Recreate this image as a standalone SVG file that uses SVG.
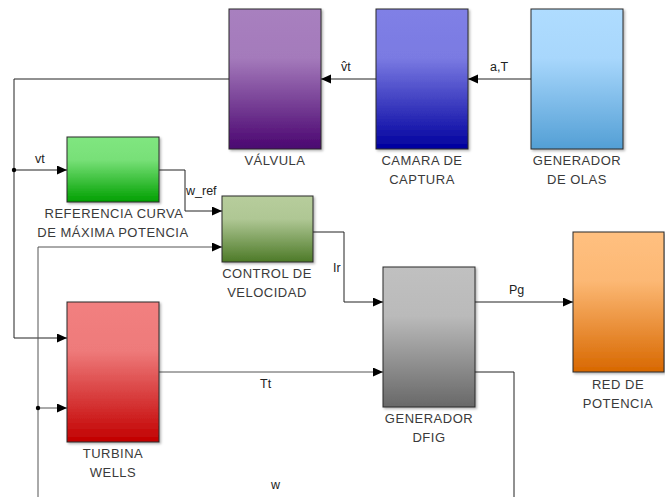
<svg xmlns="http://www.w3.org/2000/svg" width="665" height="497" viewBox="0 0 665 497">
<defs>
<linearGradient id="gV" x1="0" y1="0" x2="0" y2="1"><stop offset="0" stop-color="#a880bf"/><stop offset="0.35" stop-color="#a47abb"/><stop offset="1" stop-color="#4a0570"/></linearGradient>
<linearGradient id="gC" x1="0" y1="0" x2="0" y2="1"><stop offset="0" stop-color="#8080e6"/><stop offset="0.35" stop-color="#7a7ae2"/><stop offset="1" stop-color="#00009e"/></linearGradient>
<linearGradient id="gO" x1="0" y1="0" x2="0" y2="1"><stop offset="0" stop-color="#afdcff"/><stop offset="0.35" stop-color="#a8d7fc"/><stop offset="1" stop-color="#539fd5"/></linearGradient>
<linearGradient id="gR" x1="0" y1="0" x2="0" y2="1"><stop offset="0" stop-color="#80e680"/><stop offset="0.35" stop-color="#78e078"/><stop offset="1" stop-color="#00a000"/></linearGradient>
<linearGradient id="gCV" x1="0" y1="0" x2="0" y2="1"><stop offset="0" stop-color="#b7cd9c"/><stop offset="0.35" stop-color="#afc794"/><stop offset="1" stop-color="#4d7a28"/></linearGradient>
<linearGradient id="gT" x1="0" y1="0" x2="0" y2="1"><stop offset="0" stop-color="#f28080"/><stop offset="0.35" stop-color="#ee7a7a"/><stop offset="1" stop-color="#c20000"/></linearGradient>
<linearGradient id="gD" x1="0" y1="0" x2="0" y2="1"><stop offset="0" stop-color="#c0c0c0"/><stop offset="0.35" stop-color="#bababa"/><stop offset="1" stop-color="#686868"/></linearGradient>
<linearGradient id="gP" x1="0" y1="0" x2="0" y2="1"><stop offset="0" stop-color="#ffc080"/><stop offset="0.35" stop-color="#fcb874"/><stop offset="1" stop-color="#d86800"/></linearGradient>
<marker id="arr" markerUnits="userSpaceOnUse" markerWidth="11" markerHeight="10" refX="10" refY="4.5" orient="auto"><path d="M0,0 L10,4.5 L0,9 z" fill="#000"/></marker>
<filter id="sh" x="-10%" y="-10%" width="130%" height="130%"><feDropShadow dx="1.5" dy="1.5" stdDeviation="1" flood-color="#000" flood-opacity="0.3"/></filter>
</defs>
<style>
.blk{stroke:#2a2a2a;stroke-width:1;filter:url(#sh)}
.lbl{font-family:"Liberation Sans",Arial,sans-serif;font-size:13px;letter-spacing:0.5px;fill:#3a3a3a;text-anchor:middle}
.sig{font-family:"Liberation Sans",Arial,sans-serif;font-size:12.5px;fill:#222}
.ln{fill:none;stroke:#222;stroke-width:1}
.lg{fill:none;stroke:#555;stroke-width:1}
</style>
<g id="connectors">
<path class="ln" d="M229,79 H14 V338 H67" marker-end="url(#arr)"/>
<path class="ln" d="M14,170 H67" marker-end="url(#arr)"/>
<circle cx="14" cy="170" r="2.2" fill="#000"/>
<path class="ln" d="M376,79 H321" marker-end="url(#arr)"/>
<path class="ln" d="M531,79 H468" marker-end="url(#arr)"/>
<path class="ln" d="M159,170 H185 V211 H222" marker-end="url(#arr)"/>
<path class="lg" d="M38,497 V247 H222" marker-end="url(#arr)"/>
<path class="lg" d="M38,408 H67" marker-end="url(#arr)"/>
<circle cx="38" cy="408" r="2.2" fill="#000"/>
<path class="ln" d="M313,232 H344 V302 H383" marker-end="url(#arr)"/>
<path class="lg" d="M159,372 H383" marker-end="url(#arr)"/>
<path class="ln" d="M475,302 H573" marker-end="url(#arr)"/>
<path class="ln" d="M475,372 H514 V497"/>
<text class="sig" x="341" y="71">v̂t</text>
<text class="sig" x="490" y="71">a,T</text>
<text class="sig" x="35" y="163">vt</text>
<text class="sig" x="186" y="195">w_ref</text>
<text class="sig" x="333" y="272">Ir</text>
<text class="sig" x="260" y="388">Tt</text>
<text class="sig" x="509" y="294">Pg</text>
<text class="sig" x="271" y="489">w</text>
</g>
<g id="valvula"><rect class="blk" x="229" y="9" width="92" height="140" fill="url(#gV)"/><text class="lbl" x="275" y="165">VÁLVULA</text></g>
<g id="camara"><rect class="blk" x="376" y="9" width="92" height="140" fill="url(#gC)"/><text class="lbl" x="422" y="165">CAMARA DE</text><text class="lbl" x="422" y="184">CAPTURA</text></g>
<g id="olas"><rect class="blk" x="531" y="9" width="92" height="140" fill="url(#gO)"/><text class="lbl" x="577" y="165">GENERADOR</text><text class="lbl" x="577" y="184">DE OLAS</text></g>
<g id="referencia"><rect class="blk" x="67" y="137" width="92" height="65" fill="url(#gR)"/><text class="lbl" x="114" y="218">REFERENCIA CURVA</text><text class="lbl" x="113" y="237">DE MÁXIMA POTENCIA</text></g>
<g id="control"><rect class="blk" x="222" y="196" width="91" height="66" fill="url(#gCV)"/><text class="lbl" x="267" y="278">CONTROL DE</text><text class="lbl" x="267" y="297">VELOCIDAD</text></g>
<g id="turbina"><rect class="blk" x="67" y="302" width="92" height="140" fill="url(#gT)"/><text class="lbl" x="113" y="458">TURBINA</text><text class="lbl" x="113" y="477">WELLS</text></g>
<g id="dfig"><rect class="blk" x="383" y="267" width="92" height="140" fill="url(#gD)"/><text class="lbl" x="429" y="423">GENERADOR</text><text class="lbl" x="429" y="442">DFIG</text></g>
<g id="red"><rect class="blk" x="573" y="232" width="91" height="140" fill="url(#gP)"/><text class="lbl" x="618" y="389">RED DE</text><text class="lbl" x="618" y="408">POTENCIA</text></g>
</svg>
